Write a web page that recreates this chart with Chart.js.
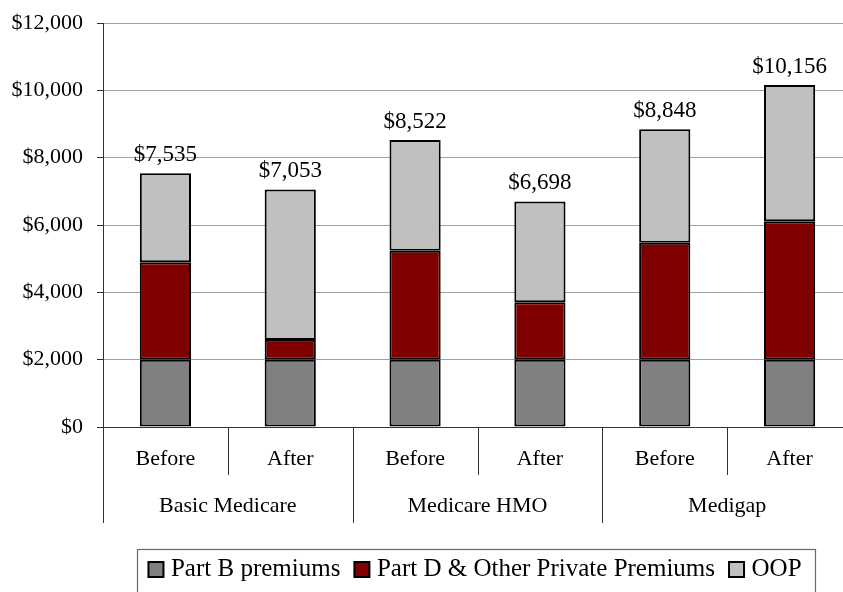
<!DOCTYPE html>
<html>
<head>
<meta charset="utf-8">
<script src="https://cdn.jsdelivr.net/npm/chart.js@4.4.0/dist/chart.umd.min.js"></script>
<style>
  html, body { margin: 0; padding: 0; background: #fff; overflow: hidden; }
  #wrap { width: 843px; height: 592px; overflow: hidden; position: relative; }
  canvas { position: absolute; left: 0; top: 0; }
</style>
</head>
<body>
<div id="wrap"><canvas id="c" width="853" height="600"></canvas></div>
<script>
// ---- data ----
const categories = ['Before', 'After', 'Before', 'After', 'Before', 'After'];
const groups = ['Basic Medicare', 'Medicare HMO', 'Medigap'];
const partB = [2000, 2000, 2000, 2000, 2000, 2000];
const partD = [2891, 588, 3235, 1706, 3470, 4108];
const oop = [2644, 4465, 3287, 2992, 3378, 4048];
const totalLabels = ['$7,535', '$7,053', '$8,522', '$6,698', '$8,848', '$10,156'];
const yTicks = [0, 2000, 4000, 6000, 8000, 10000, 12000];

const FONT = '"Liberation Serif", "Times New Roman", serif';

const decorPlugin = {
  id: 'decor',
  afterDatasetsDraw(chart) {
    const ctx = chart.ctx;
    const x = chart.scales.x, y = chart.scales.y;
    ctx.save();
    ctx.fillStyle = '#000';
    ctx.font = '23px ' + FONT;
    ctx.textAlign = 'center';
    ctx.textBaseline = 'alphabetic';
    for (let i = 0; i < categories.length; i++) {
      const total = partB[i] + partD[i] + oop[i];
      ctx.fillText(totalLabels[i], x.getPixelForValue(i), y.getPixelForValue(total) - 12.5);
    }
    ctx.restore();
  },
  afterDraw(chart) {
    const ctx = chart.ctx;
    const x = chart.scales.x;
    const top = x.top;
    ctx.save();
    ctx.strokeStyle = '#333';
    ctx.lineWidth = 1;
    const n = categories.length;
    const drawV = (px, len) => {
      ctx.beginPath();
      ctx.moveTo(Math.round(px) + 0.5, top);
      ctx.lineTo(Math.round(px) + 0.5, top + len);
      ctx.stroke();
    };
    drawV(chart.chartArea.left, 96);
    for (let i = 0; i < n - 1; i++) {
      const px = (x.getPixelForValue(i) + x.getPixelForValue(i + 1)) / 2;
      drawV(px, (i % 2 === 1) ? 96 : 48);
    }
    ctx.fillStyle = '#000';
    ctx.font = '22px ' + FONT;
    ctx.textAlign = 'center';
    ctx.textBaseline = 'middle';
    for (let i = 0; i < n; i++) {
      ctx.fillText(categories[i], x.getPixelForValue(i), top + 32);
    }
    for (let g = 0; g < groups.length; g++) {
      const px = (x.getPixelForValue(2 * g) + x.getPixelForValue(2 * g + 1)) / 2;
      ctx.fillText(groups[g], px, top + 79);
    }
    // legend border
    const lg = chart.legend;
    if (lg && lg.legendHitBoxes && lg.legendHitBoxes.length) {
      let l = Infinity, r = -Infinity, t = Infinity, b = -Infinity;
      lg.legendHitBoxes.forEach(h => {
        l = Math.min(l, h.left); r = Math.max(r, h.left + h.width);
        t = Math.min(t, h.top); b = Math.max(b, h.top + h.height);
      });
      const cy = (t + b) / 2;
      ctx.strokeStyle = '#6a6a6a';
      ctx.lineWidth = 1.2;
      ctx.strokeRect(Math.round(l - 16) + 0.5, Math.round(cy - 21) + 0.5, Math.round(r - l + 30), 80);
    }
    ctx.restore();
  }
};

const ds = (label, data, color) => ({
  label, data, backgroundColor: color, borderColor: '#000', borderWidth: 2,
  barPercentage: 0.41, categoryPercentage: 1.0, borderSkipped: false,
  pointStyle: 'rect'
});

new Chart(document.getElementById('c'), {
  type: 'bar',
  data: {
    labels: categories,
    datasets: [
      ds('Part B premiums', partB, '#808080'),
      ds('Part D & Other Private Premiums', partD, '#800000'),
      ds('OOP', oop, '#c0c0c0')
    ]
  },
  options: {
    responsive: false,
    animation: false,
    layout: { padding: { top: 0, right: 1, bottom: 8, left: 0 } },
    plugins: {
      tooltip: { enabled: false },
      legend: {
        position: 'bottom',
        fullSize: false,
        labels: {
          font: { family: FONT, size: 25 },
          color: '#000',
          usePointStyle: true,
          pointStyle: 'rect',
          boxWidth: 5,
          boxHeight: 15,
          padding: 19
        }
      }
    },
    scales: {
      x: {
        stacked: true,
        grid: { display: false },
        border: { display: true, color: '#333', width: 1 },
        ticks: { display: false },
        afterFit(scale) { scale.height = 111; }
      },
      y: {
        stacked: true,
        min: 0, max: 12000,
        afterBuildTicks(scale) { scale.ticks = yTicks.map(v => ({ value: v })); },
        grid: { color: '#a0a0a0', lineWidth: 1, tickLength: 6, tickColor: '#333' },
        border: { display: true, color: '#333', width: 1 },
        ticks: {
          color: '#000',
          font: { family: FONT, size: 22, lineHeight: 0.82 },
          padding: 14,
          callback: v => '$' + Number(v).toLocaleString('en-US')
        },
        afterFit(scale) { scale.width = 103; }
      }
    }
  },
  plugins: [decorPlugin]
});
</script>
</body>
</html>
